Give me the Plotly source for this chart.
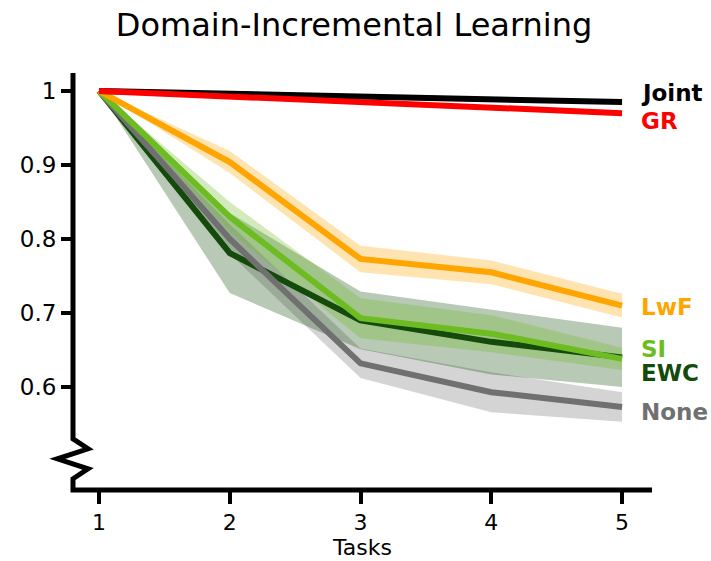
import plotly.graph_objects as go

# Accuracy per task for each continual-learning method (mean and spread)
tasks = [1, 2, 3, 4, 5]

joint_mean = [1.000, 0.996, 0.992, 0.988, 0.985]
joint_err = [0.000, 0.001, 0.001, 0.001, 0.001]

gr_mean = [1.000, 0.992, 0.985, 0.978, 0.970]
gr_err = [0.000, 0.002, 0.002, 0.002, 0.002]

lwf_mean = [1.000, 0.904, 0.773, 0.755, 0.710]
lwf_err = [0.000, 0.015, 0.018, 0.016, 0.016]

si_mean = [1.000, 0.830, 0.693, 0.672, 0.638]
si_err = [0.000, 0.020, 0.027, 0.025, 0.015]

ewc_mean = [1.000, 0.781, 0.690, 0.661, 0.640]
ewc_err = [0.000, 0.054, 0.039, 0.044, 0.040]

none_mean = [1.000, 0.800, 0.632, 0.593, 0.573]
none_err = [0.000, 0.020, 0.020, 0.027, 0.020]

y_ticks = [0.6, 0.7, 0.8, 0.9, 1.0]
y_tick_text = ["0.6", "0.7", "0.8", "0.9", "1"]
x_range = [0.801, 5.229]
y_range = [0.4608, 1.0243]

# name, mean, err, line colour, band colour, label pixel offset
methods = {
    "Joint": (joint_mean, joint_err, "#000000", "rgba(0,0,0,0.3)", 9),
    "GR": (gr_mean, gr_err, "#ff0000", "rgba(255,0,0,0.3)", -8),
    "LwF": (lwf_mean, lwf_err, "#ffa500", "rgba(255,165,0,0.3)", -1),
    "SI": (si_mean, si_err, "#6cbc22", "rgba(108,188,34,0.3)", 10),
    "EWC": (ewc_mean, ewc_err, "#144b0b", "rgba(20,75,11,0.3)", -16),
    "None": (none_mean, none_err, "#707070", "rgba(112,112,112,0.3)", -5),
}
band_order = ["None", "EWC", "SI", "LwF", "GR", "Joint"]
line_order = ["EWC", "None", "SI", "LwF", "Joint", "GR"]

fig = go.Figure()

for name in band_order:
    mean, err, _, band, _ = methods[name]
    upper = [m + e for m, e in zip(mean, err)]
    lower = [m - e for m, e in zip(mean, err)]
    fig.add_trace(go.Scatter(
        x=tasks + tasks[::-1], y=upper + lower[::-1],
        fill="toself", fillcolor=band, line=dict(width=0),
        mode="lines", hoverinfo="skip", showlegend=False,
    ))

for name in line_order:
    mean, _, color, _, _ = methods[name]
    fig.add_trace(go.Scatter(
        x=tasks, y=mean, mode="lines", name=name,
        line=dict(color=color, width=6), showlegend=False,
    ))

for name, (mean, _, color, _, shift) in methods.items():
    fig.add_annotation(
        x=5.13, y=mean[-1], xref="x", yref="y", text=f"<b>{name}</b>",
        showarrow=False, xanchor="left", yanchor="middle", yshift=shift,
        font=dict(family="DejaVu Sans", size=23, color=color),
    )

# Axis spines, with a break marker on the y axis
def py(v):
    return (v - y_range[0]) / (y_range[1] - y_range[0])

zig_top = py(0.530)
step = (py(0.530) - py(0.476)) / 4
path = (
    f"M 0,1 L 0,{zig_top} "
    f"L 0.026,{zig_top - step} L -0.027,{zig_top - 2 * step} "
    f"L 0.026,{zig_top - 3 * step} L 0,{zig_top - 4 * step} "
    f"L 0,0 L 1,0"
)
fig.add_shape(type="path", path=path, xref="paper", yref="paper",
              line=dict(color="black", width=5), layer="above")

fig.update_layout(
    width=711, height=561,
    margin=dict(l=73, r=59, t=73, b=71),
    plot_bgcolor="white", paper_bgcolor="white",
    font=dict(family="DejaVu Sans", size=22, color="black"),
    title=dict(text="Domain-Incremental Learning", x=0.498, xanchor="center",
               y=1 - 25 / 561, yanchor="middle", yref="container",
               font=dict(family="DejaVu Sans", size=32, color="black")),
    xaxis=dict(range=x_range, tickvals=tasks, ticktext=[str(t) for t in tasks],
               showgrid=False, zeroline=False, showline=False, automargin=False,
               ticks="outside", ticklen=13, tickwidth=4, tickcolor="black",
               tickfont=dict(size=22),
               title=dict(text="Tasks", standoff=4,
                          font=dict(family="DejaVu Sans", size=22))),
    yaxis=dict(range=y_range, tickvals=y_ticks, ticktext=y_tick_text,
               showgrid=False, zeroline=False, showline=False, automargin=False,
               ticks="outside", ticklen=11, tickwidth=4, tickcolor="black",
               tickfont=dict(size=23)),
)

fig.write_html("out.html")
